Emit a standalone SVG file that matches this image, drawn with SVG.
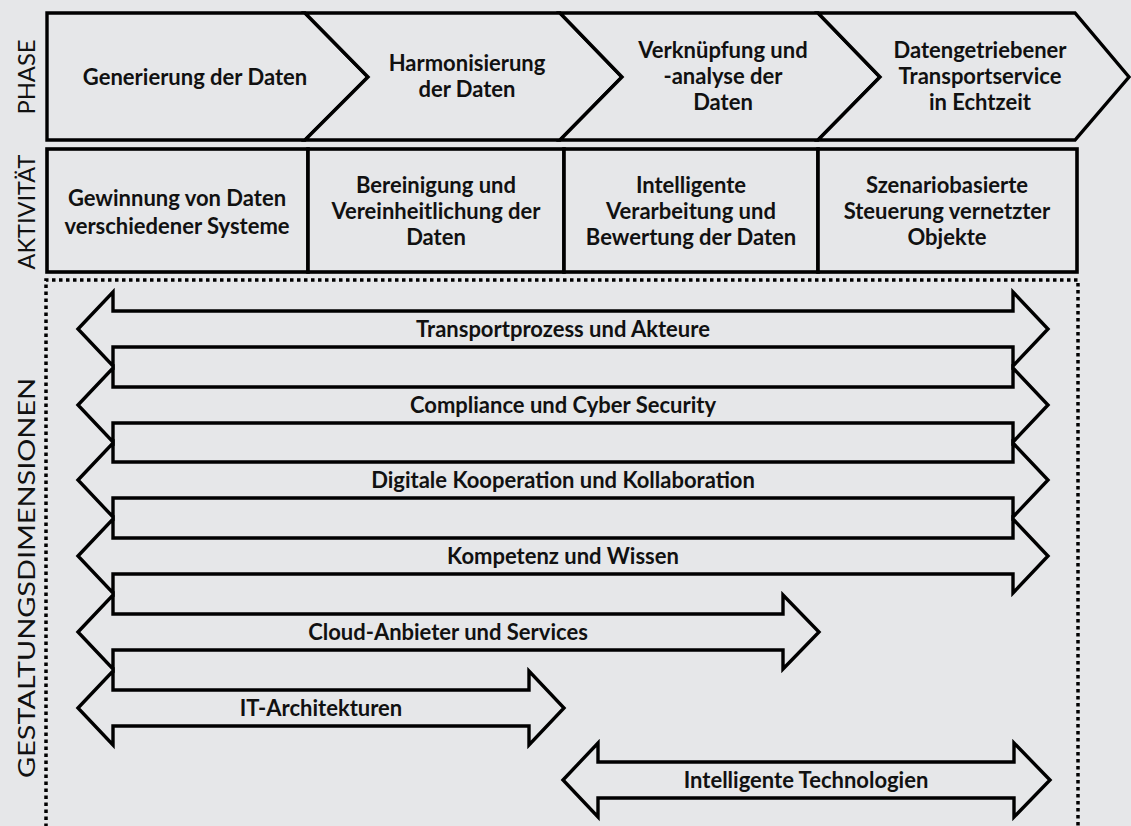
<svg xmlns="http://www.w3.org/2000/svg" width="1131" height="826" viewBox="0 0 1131 826">
<style>
.bg{fill:#e6e7e9}
.shape{fill:#e6e7e9;stroke:#000;stroke-width:3.4;stroke-linejoin:miter}
.box{fill:#e6e7e9;stroke:#000;stroke-width:3.6}
.lbl{font-family:Lato,"Open Sans","Liberation Sans",sans-serif;font-weight:bold;font-size:22px;fill:#111;text-anchor:middle}
.side{font-family:Lato,"Open Sans","Liberation Sans",sans-serif;font-size:23px;fill:#111;text-anchor:middle}
.dots{fill:none;stroke:#000;stroke-width:3.5;stroke-dasharray:3.5 3.5}
</style>
<rect class="bg" x="0" y="0" width="1131" height="826"/>
<g id="side-labels">
<text class="side" x="35" y="77" transform="rotate(-90 35 77)" textLength="75" lengthAdjust="spacingAndGlyphs">PHASE</text>
<text class="side" x="35" y="212" transform="rotate(-90 35 212)" textLength="115" lengthAdjust="spacingAndGlyphs">AKTIVITÄT</text>
<text class="side" x="35" y="578" transform="rotate(-90 35 578)" textLength="400" lengthAdjust="spacingAndGlyphs">GESTALTUNGSDIMENSIONEN</text>
</g>
<g id="phase1">
<polygon class="shape" points="47,13 305,13 368,77 305,140 47,140"/>
<text class="lbl" x="195" y="85">Generierung der Daten</text>
</g>
<g id="phase2">
<polygon class="shape" points="305,13 560,13 622,77 560,140 305,140 368,77"/>
<text class="lbl" x="467" y="71">Harmonisierung</text>
<text class="lbl" x="467" y="97">der Daten</text>
</g>
<g id="phase3">
<polygon class="shape" points="560,13 818,13 880,77 818,140 560,140 622,77"/>
<text class="lbl" x="723" y="58">Verknüpfung und</text>
<text class="lbl" x="723" y="84">-analyse der</text>
<text class="lbl" x="723" y="110">Daten</text>
</g>
<g id="phase4">
<polygon class="shape" points="818,13 1075,13 1129,77 1075,140 818,140 880,77"/>
<text class="lbl" x="980" y="58">Datengetriebener</text>
<text class="lbl" x="980" y="84">Transportservice</text>
<text class="lbl" x="980" y="110">in Echtzeit</text>
</g>
<g id="activity1">
<rect class="box" x="47" y="149" width="261" height="123"/>
<text class="lbl" x="177" y="206">Gewinnung von Daten</text>
<text class="lbl" x="177" y="234">verschiedener Systeme</text>
</g>
<g id="activity2">
<rect class="box" x="308" y="149" width="256" height="123"/>
<text class="lbl" x="436" y="193">Bereinigung und</text>
<text class="lbl" x="436" y="219">Vereinheitlichung der</text>
<text class="lbl" x="436" y="245">Daten</text>
</g>
<g id="activity3">
<rect class="box" x="564" y="149" width="254" height="123"/>
<text class="lbl" x="691" y="193">Intelligente</text>
<text class="lbl" x="691" y="219">Verarbeitung und</text>
<text class="lbl" x="691" y="245">Bewertung der Daten</text>
</g>
<g id="activity4">
<rect class="box" x="818" y="149" width="259" height="123"/>
<text class="lbl" x="947" y="193">Szenariobasierte</text>
<text class="lbl" x="947" y="219">Steuerung vernetzter</text>
<text class="lbl" x="947" y="245">Objekte</text>
</g>
<g id="dimensions-frame">
<path class="dots" d="M46,834 V280 H1078 V834"/>
</g>
<g id="connectors">
<polygon class="shape" points="78,329 113,292 113,311 1013,311 1013,292 1048,329 1013,366 1013,347 113,347 113,366"/>
<polygon class="shape" points="78,405 113,368 113,387 1013,387 1013,368 1048,405 1013,442 1013,423 113,423 113,442"/>
<polygon class="shape" points="78,480 113,443 113,462 1013,462 1013,443 1048,480 1013,517 1013,498 113,498 113,517"/>
<polygon class="shape" points="78,556 113,519 113,538 1013,538 1013,519 1048,556 1013,593 1013,574 113,574 113,593"/>
<polygon class="shape" points="78,632 113,595 113,614 783,614 783,595 819,632 783,669 783,650 113,650 113,669"/>
<polygon class="shape" points="78,708 113,671 113,690 529,690 529,671 564,708 529,745 529,726 113,726 113,745"/>
<polygon class="shape" points="563,780 598,743 598,762 1014,762 1014,743 1050,780 1014,817 1014,798 598,798 598,817"/>
</g>
<g id="arrow-labels">
<text class="lbl" x="563" y="337">Transportprozess und Akteure</text>
<text class="lbl" x="563" y="413">Compliance und Cyber Security</text>
<text class="lbl" x="563" y="488">Digitale Kooperation und Kollaboration</text>
<text class="lbl" x="563" y="564">Kompetenz und Wissen</text>
<text class="lbl" x="448" y="640">Cloud-Anbieter und Services</text>
<text class="lbl" x="321" y="716">IT-Architekturen</text>
<text class="lbl" x="806" y="788">Intelligente Technologien</text>
</g>
</svg>
